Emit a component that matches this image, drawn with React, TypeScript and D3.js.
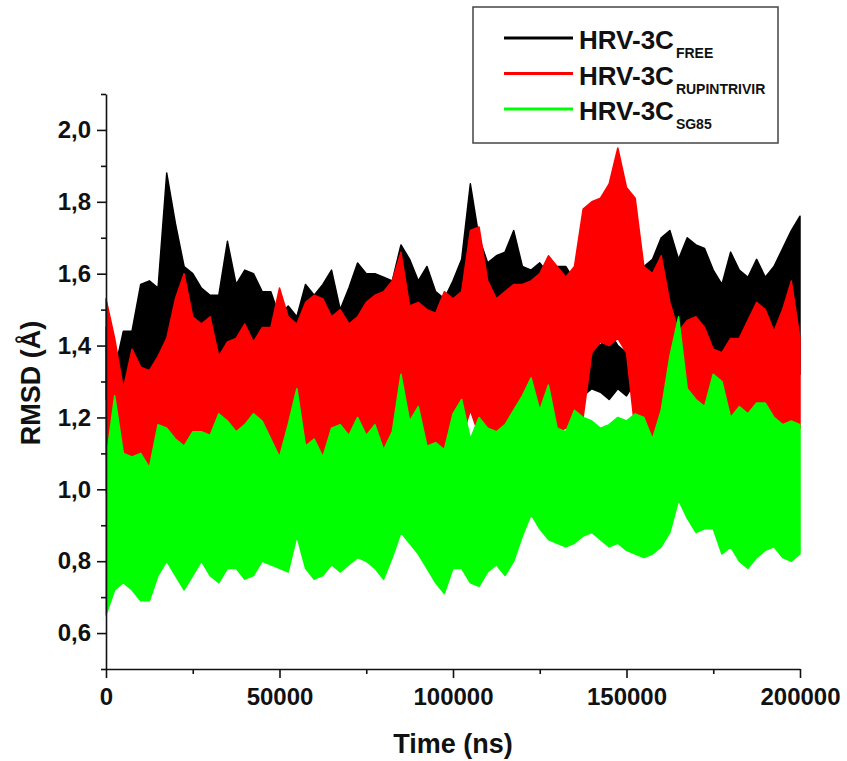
import React, { useEffect, useRef } from 'react'
import * as d3 from 'd3'

// time step between envelope samples (ns)
const timeStep = 2500

// HRV-3C FREE (black) envelope
const freeHigh = [
  1.45, 1.33, 1.44, 1.44, 1.57, 1.58, 1.56, 1.88, 1.74, 1.62,
  1.60, 1.56, 1.54, 1.54, 1.69, 1.57, 1.61, 1.60, 1.55, 1.55,
  1.48, 1.51, 1.48, 1.57, 1.54, 1.57, 1.61, 1.50, 1.56, 1.63,
  1.60, 1.60, 1.59, 1.58, 1.68, 1.64, 1.58, 1.62, 1.55, 1.53,
  1.58, 1.64, 1.85, 1.70, 1.63, 1.65, 1.66, 1.72, 1.62, 1.61,
  1.63, 1.60, 1.62, 1.62, 1.58, 1.45, 1.42, 1.40, 1.44, 1.40,
  1.38, 1.50, 1.62, 1.64, 1.70, 1.72, 1.64, 1.70, 1.68, 1.67,
  1.61, 1.57, 1.66, 1.61, 1.59, 1.64, 1.59, 1.62, 1.67, 1.72, 1.76,
]
const freeLow = [
  1.25, 1.27, 1.26, 1.26, 1.24, 1.27, 1.28, 1.30, 1.31, 1.32,
  1.30, 1.31, 1.30, 1.32, 1.30, 1.31, 1.30, 1.29, 1.29, 1.30,
  1.32, 1.31, 1.33, 1.32, 1.34, 1.33, 1.32, 1.34, 1.33, 1.32,
  1.33, 1.34, 1.33, 1.35, 1.34, 1.33, 1.34, 1.33, 1.35, 1.34,
  1.33, 1.34, 1.30, 1.33, 1.35, 1.34, 1.33, 1.32, 1.34, 1.33,
  1.34, 1.33, 1.32, 1.31, 1.30, 1.26, 1.28, 1.27, 1.25, 1.28,
  1.26, 1.30, 1.32, 1.33, 1.34, 1.33, 1.32, 1.33, 1.34, 1.32,
  1.33, 1.32, 1.34, 1.33, 1.32, 1.34, 1.33, 1.32, 1.34, 1.33, 1.32,
]

// HRV-3C RUPINTRIVIR (red) envelope
const rupHigh = [
  1.53, 1.42, 1.28, 1.39, 1.34, 1.33, 1.37, 1.42, 1.53, 1.60,
  1.48, 1.46, 1.48, 1.37, 1.41, 1.42, 1.46, 1.41, 1.45, 1.45,
  1.56, 1.48, 1.46, 1.52, 1.54, 1.53, 1.48, 1.50, 1.46, 1.48,
  1.52, 1.54, 1.55, 1.58, 1.66, 1.51, 1.52, 1.50, 1.49, 1.55,
  1.53, 1.55, 1.72, 1.73, 1.58, 1.53, 1.55, 1.57, 1.57, 1.58,
  1.60, 1.65, 1.62, 1.59, 1.62, 1.78, 1.80, 1.81, 1.85, 1.95,
  1.84, 1.81, 1.62, 1.60, 1.65, 1.52, 1.44, 1.47, 1.48, 1.45,
  1.39, 1.38, 1.42, 1.42, 1.47, 1.52, 1.50, 1.44, 1.50, 1.58, 1.42,
]
const rupLow = [
  0.99, 1.10, 1.08, 1.07, 1.06, 1.04, 1.05, 1.08, 1.10, 1.08,
  1.10, 1.07, 1.04, 1.06, 1.08, 1.05, 1.04, 1.08, 1.10, 1.08,
  1.06, 1.07, 1.10, 1.08, 1.07, 1.07, 1.08, 1.07, 1.07, 1.10,
  1.08, 1.10, 1.09, 1.10, 1.12, 1.10, 1.09, 1.11, 1.10, 1.10,
  1.12, 1.14, 1.22, 1.15, 1.12, 1.13, 1.13, 1.15, 1.15, 1.14,
  1.13, 1.15, 1.16, 1.17, 1.18, 1.20, 1.38, 1.41, 1.40, 1.42,
  1.38, 1.16, 1.14, 1.13, 1.14, 1.12, 1.10, 1.14, 1.16, 1.15,
  1.17, 1.16, 1.18, 1.15, 1.17, 1.18, 1.16, 1.17, 1.18, 1.16, 1.17,
]

// HRV-3C SG85 (green) envelope
const sgHigh = [
  1.08, 1.26, 1.10, 1.09, 1.10, 1.06, 1.18, 1.17, 1.14, 1.12,
  1.16, 1.16, 1.15, 1.21, 1.19, 1.16, 1.18, 1.21, 1.19, 1.14,
  1.09, 1.18, 1.28, 1.12, 1.14, 1.09, 1.17, 1.18, 1.15, 1.20,
  1.15, 1.18, 1.11, 1.16, 1.32, 1.19, 1.23, 1.12, 1.13, 1.11,
  1.21, 1.25, 1.14, 1.20, 1.17, 1.16, 1.18, 1.22, 1.26, 1.31,
  1.22, 1.29, 1.17, 1.16, 1.22, 1.20, 1.19, 1.17, 1.18, 1.20,
  1.19, 1.21, 1.20, 1.14, 1.22, 1.37, 1.48, 1.28, 1.25, 1.23,
  1.32, 1.30, 1.20, 1.23, 1.21, 1.24, 1.24, 1.20, 1.18, 1.19, 1.18,
]
const sgLow = [
  0.65, 0.72, 0.74, 0.72, 0.69, 0.69, 0.76, 0.80, 0.76, 0.72,
  0.76, 0.80, 0.76, 0.74, 0.78, 0.78, 0.75, 0.76, 0.80, 0.79,
  0.78, 0.77, 0.87, 0.78, 0.75, 0.76, 0.79, 0.77, 0.79, 0.81,
  0.80, 0.78, 0.75, 0.81, 0.88, 0.85, 0.82, 0.78, 0.74, 0.71,
  0.78, 0.78, 0.74, 0.73, 0.77, 0.79, 0.76, 0.80, 0.87, 0.93,
  0.89, 0.86, 0.85, 0.84, 0.85, 0.87, 0.88, 0.86, 0.84, 0.85,
  0.83, 0.82, 0.81, 0.82, 0.84, 0.88, 0.97, 0.92, 0.88, 0.89,
  0.89, 0.82, 0.84, 0.80, 0.78, 0.81, 0.83, 0.84, 0.81, 0.80, 0.82,
]

const xTicks = [0, 50000, 100000, 150000, 200000]
const xMinorTicks = [25000, 75000, 125000, 175000]
const yTicks = [0.6, 0.8, 1.0, 1.2, 1.4, 1.6, 1.8, 2.0]
const yMinorTicks = [0.5, 0.7, 0.9, 1.1, 1.3, 1.5, 1.7, 1.9, 2.1]
const seriesNames = ['FREE', 'RUPINTRIVIR', 'SG85']
const seriesColors = ['#000000', '#ff0000', '#00ff00']

const font = "'Liberation Sans', Arial, sans-serif"

const App = () => {
  const svgRef = useRef(null)

  useEffect(() => {
    const width = 847
    const height = 761
    const left = 106
    const right = 800
    const top = 94
    const bottom = 669

    const svg = d3.select(svgRef.current)
    svg.selectAll('*').remove()
    svg.attr('width', width).attr('height', height)

    const x = d3.scaleLinear().domain([0, 200000]).range([left, right])
    const y = d3.scaleLinear().domain([0.5, 2.1]).range([bottom, top])

    const series = [
      { hi: freeHigh, lo: freeLow },
      { hi: rupHigh, lo: rupLow },
      { hi: sgHigh, lo: sgLow },
    ]

    // noisy traces drawn as filled envelopes, black first, green on top
    series.forEach((s, k) => {
      const pts = s.hi.map((h, i) => ({ t: i * timeStep, hi: h, lo: s.lo[i] }))
      const area = d3
        .area()
        .x((d) => x(d.t))
        .y0((d) => y(d.lo))
        .y1((d) => y(d.hi))
      svg
        .append('path')
        .attr('d', area(pts))
        .attr('fill', seriesColors[k])
        .attr('stroke', seriesColors[k])
        .attr('stroke-width', 1.5)
        .attr('stroke-linejoin', 'round')
    })

    const fmt = (v) => d3.format('.1f')(v).replace('.', ',')

    // eixo y
    const gy = svg.append('g').attr('transform', `translate(${left},0)`)
    gy.call(d3.axisLeft(y).tickValues(yTicks).tickSize(9).tickSizeOuter(0).tickPadding(6).tickFormat(fmt))
    gy.append('g').call(d3.axisLeft(y).tickValues(yMinorTicks).tickSize(5).tickSizeOuter(0).tickFormat(() => ''))
      .call((g) => g.select('.domain').remove())

    // eixo x
    const gx = svg.append('g').attr('transform', `translate(0,${bottom})`)
    gx.call(d3.axisBottom(x).tickValues(xTicks).tickSize(9).tickSizeOuter(0).tickPadding(10).tickFormat(d3.format('d')))
    gx.append('g').call(d3.axisBottom(x).tickValues(xMinorTicks).tickSize(5).tickSizeOuter(0).tickFormat(() => ''))
      .call((g) => g.select('.domain').remove())

    svg.selectAll('.domain').attr('stroke', '#111').attr('stroke-width', 1.6)
    svg.selectAll('.tick line').attr('stroke', '#111').attr('stroke-width', 1.6)
    svg
      .selectAll('.tick text')
      .attr('fill', '#111')
      .style('font-family', font)
      .style('font-weight', 'bold')
      .style('font-size', '24px')

    svg
      .append('text')
      .attr('x', (left + right) / 2)
      .attr('y', 753)
      .attr('text-anchor', 'middle')
      .style('font-family', font)
      .style('font-weight', 'bold')
      .style('font-size', '27px')
      .attr('fill', '#111')
      .text('Time (ns)')

    svg
      .append('text')
      .attr('transform', `translate(40,383) rotate(-90)`)
      .attr('text-anchor', 'middle')
      .style('font-family', font)
      .style('font-weight', 'bold')
      .style('font-size', '27px')
      .attr('fill', '#111')
      .text('RMSD (Å)')

    // legenda
    const legend = svg.append('g')
    legend
      .append('rect')
      .attr('x', 473)
      .attr('y', 7)
      .attr('width', 305)
      .attr('height', 136)
      .attr('fill', 'white')
      .attr('stroke', '#444')
      .attr('stroke-width', 1.5)

    seriesNames.forEach((name, k) => {
      const cy = 38 + k * 35.5
      legend
        .append('line')
        .attr('x1', 504)
        .attr('x2', 573)
        .attr('y1', cy)
        .attr('y2', cy)
        .attr('stroke', seriesColors[k])
        .attr('stroke-width', 3)
      const t = legend
        .append('text')
        .attr('x', 579)
        .attr('y', cy + 11)
        .style('font-family', font)
        .style('font-weight', 'bold')
        .style('font-size', '26px')
        .attr('fill', '#111')
      t.append('tspan').text('HRV-3C')
      t.append('tspan').attr('dx', 2).attr('dy', 9).style('font-size', '14px').text(name)
    })
  }, [])

  return <svg ref={svgRef} style={{ position: 'absolute', left: 0, top: 0 }}></svg>
}

export default App
